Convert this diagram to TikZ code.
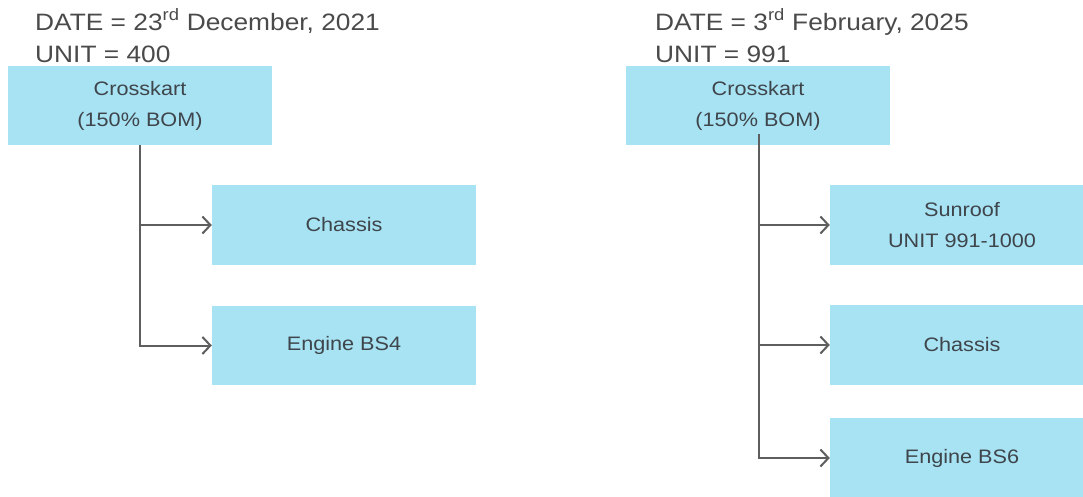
\documentclass[tikz,border=0pt]{standalone}
\usepackage{fontspec}
\setmainfont[FakeStretch=1.11]{Liberation Sans}
\usetikzlibrary{arrows.meta}
\definecolor{boxfill}{HTML}{A8E3F4}
\definecolor{boxtext}{HTML}{3E454B}
\definecolor{headtext}{HTML}{4A4A4A}
\definecolor{linecol}{HTML}{5E5E5E}
\tikzset{
  bbox/.style={fill=boxfill, draw=none, minimum width=264pt, minimum height=80pt,
    inner sep=0pt, align=center, text=boxtext,
    font=\fontsize{19.5pt}{31pt}\selectfont},
  head/.style={anchor=base west, inner sep=0pt, text=headtext,
    font=\fontsize{23.7pt}{32pt}\selectfont},
  conn/.style={draw=linecol, line width=2pt,
    -{Straight Barb[length=8pt,width=17pt,line width=2pt]}},
  trunk/.style={draw=linecol, line width=2pt}
}
\begin{document}
\begin{tikzpicture}[x=1pt,y=-1pt]
\useasboundingbox (0,0) rectangle (1083,496);
\clip (0,0) rectangle (1083,496);
% left tree
\node[head] (dateL) at (35,30) {DATE = 23\textsuperscript{rd} December, 2021};
\node[head] (unitL) at (35,62) {UNIT = 400};
\node[bbox, minimum height=79pt] (rootL) at (140,105.5) {Crosskart\\(150\% BOM)};
\node[bbox] (chassisL) at (344,225) {Chassis};
\node[bbox, minimum height=79pt] (engineL) at (344,345.5) {Engine BS4};
\draw[trunk] (rootL.south) -- (rootL.south |- engineL.west);
\draw[conn] (rootL.south) |- (chassisL.west);
\draw[conn] (rootL.south) |- (engineL.west);
% right tree
\node[head] (dateR) at (655,30) {DATE = 3\textsuperscript{rd} February, 2025};
\node[head] (unitR) at (655,62) {UNIT = 991};
\node[bbox, minimum height=79pt] (rootR) at (758,105.5) {Crosskart\\(150\% BOM)};
\node[bbox] (sunroofR) at (962,225) {Sunroof\\UNIT 991-1000};
\node[bbox] (chassisR) at (962,345) {Chassis};
\node[bbox] (engineR) at (962,458) {Engine BS6};
\coordinate (startR) at (759,134);
\draw[trunk] (startR) -- (startR |- engineR.west);
\draw[conn] (startR) |- (sunroofR.west);
\draw[conn] (startR) |- (chassisR.west);
\draw[conn] (startR) |- (engineR.west);
\end{tikzpicture}
\end{document}
